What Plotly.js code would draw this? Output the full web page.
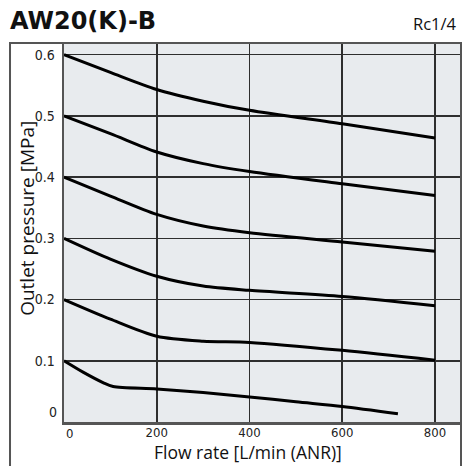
<!DOCTYPE html>
<html><head><meta charset="utf-8">
<script src="https://cdn.plot.ly/plotly-3.0.1.min.js"></script>
<style>html,body{margin:0;padding:0;background:#fff}#chart{width:463px;height:466px}</style>
</head><body><div id="chart"></div>
<script>
// Flow rate [L/min (ANR)] and outlet pressure [MPa] for each set pressure
const flow06 = [0, 100, 200, 300, 400, 600, 800];
const p06    = [0.600, 0.571, 0.543, 0.524, 0.509, 0.487, 0.464];
const flow05 = [0, 100, 200, 300, 400, 600, 800];
const p05    = [0.500, 0.471, 0.441, 0.422, 0.409, 0.389, 0.370];
const flow04 = [0, 100, 200, 300, 400, 600, 800];
const p04    = [0.400, 0.369, 0.339, 0.320, 0.309, 0.294, 0.279];
const flow03 = [0, 100, 200, 300, 400, 600, 800];
const p03    = [0.300, 0.266, 0.238, 0.222, 0.215, 0.205, 0.190];
const flow02 = [0, 100, 200, 300, 400, 600, 800];
const p02    = [0.200, 0.168, 0.140, 0.132, 0.130, 0.117, 0.101];
const flow01 = [0, 42, 85, 106, 200, 300, 400, 500, 600, 720];
const p01    = [0.100, 0.081, 0.064, 0.058, 0.054, 0.048, 0.041, 0.033, 0.0255, 0.0136];

const xTicks = [0, 200, 400, 600, 800];
const xTickText = ['', '200', '400', '600', '800'];
const yTicks = [0, 0.1, 0.2, 0.3, 0.4, 0.5, 0.6];
const yTickText = ['', '0.1', '0.2', '0.3', '0.4', '0.5', '0.6'];

const series = [[flow06,p06],[flow05,p05],[flow04,p04],[flow03,p03],[flow02,p02],[flow01,p01]];
const traces = series.map(([x,y]) => ({
  x: x, y: y, type: 'scatter', mode: 'lines',
  line: {color: '#000', width: 3, shape: 'spline', smoothing: 0.8},
  hoverinfo: 'skip', showlegend: false
}));

const tickFont = {family: 'Liberation Sans Narrow, DejaVu Sans Condensed, sans-serif', size: 14, color: '#222'};
const xTickFont = {family: 'Liberation Sans Narrow, DejaVu Sans Condensed, sans-serif', size: 13, color: '#222'};
const layout = {
  width: 463, height: 466,
  margin: {l: 64, r: 2, t: 43, b: 44},
  paper_bgcolor: '#fff', plot_bgcolor: '#e8ebee',
  xaxis: {range: [0, 856], tickvals: xTicks, ticktext: xTickText,
    showgrid: true, gridcolor: '#2e2e2e', gridwidth: 1.6, zeroline: false,
    showline: true, linecolor: '#555', linewidth: 2.5, ticks: '', tickfont: xTickFont,
    ticklabelstandoff: -3, fixedrange: true},
  yaxis: {range: [0, 0.619], tickvals: yTicks, ticktext: yTickText,
    showgrid: true, gridcolor: '#2e2e2e', gridwidth: 1.6, zeroline: false,
    showline: true, linecolor: '#555', linewidth: 2.5, ticks: '', tickfont: tickFont,
    ticklabelstandoff: 4, fixedrange: true},
  shapes: [
    {type: 'rect', xref: 'paper', yref: 'paper', x0: -0.136, x1: 1.0, y0: -0.2, y1: 1.0,
     line: {color: '#555', width: 2}, fillcolor: 'rgba(0,0,0,0)', layer: 'above'}
  ],
  annotations: [
    {text: '<b>AW20(K)-B</b>', xref: 'paper', yref: 'paper', x: -0.14, y: 1.0, yshift: 6,
     xanchor: 'left', yanchor: 'bottom', showarrow: false,
     font: {family: 'DejaVu Sans, sans-serif', size: 24, color: '#111'}},
    {text: 'Rc1/4', xref: 'paper', yref: 'paper', x: 0.995, y: 1.0, yshift: 6,
     xanchor: 'right', yanchor: 'bottom', showarrow: false,
     font: {family: 'Open Sans, sans-serif', size: 16.5, color: '#111'}},
    {text: 'Flow rate [L/min (ANR)]', xref: 'paper', yref: 'paper', x: 0.464, y: 0, yshift: -44,
     xanchor: 'center', yanchor: 'bottom', showarrow: false,
     font: {family: 'Open Sans, sans-serif', size: 17.5, color: '#111'}},
    {text: 'Outlet pressure [MPa]', xref: 'paper', yref: 'paper', x: 0, xshift: -37, y: 0.536,
     xanchor: 'center', yanchor: 'middle', textangle: -90, showarrow: false,
     font: {family: 'Open Sans, sans-serif', size: 19, color: '#111'}},
    {text: '0', xref: 'x', yref: 'y', x: 0, y: 0, xanchor: 'center', yanchor: 'middle',
     xshift: 5, yshift: -11, showarrow: false, font: xTickFont},
    {text: '0', xref: 'x', yref: 'y', x: 0, y: 0, xanchor: 'right', yanchor: 'middle',
     xshift: -5, yshift: 10, showarrow: false, font: tickFont}
  ]
};
Plotly.newPlot('chart', traces, layout, {displayModeBar: false, staticPlot: true});
</script></body></html>
